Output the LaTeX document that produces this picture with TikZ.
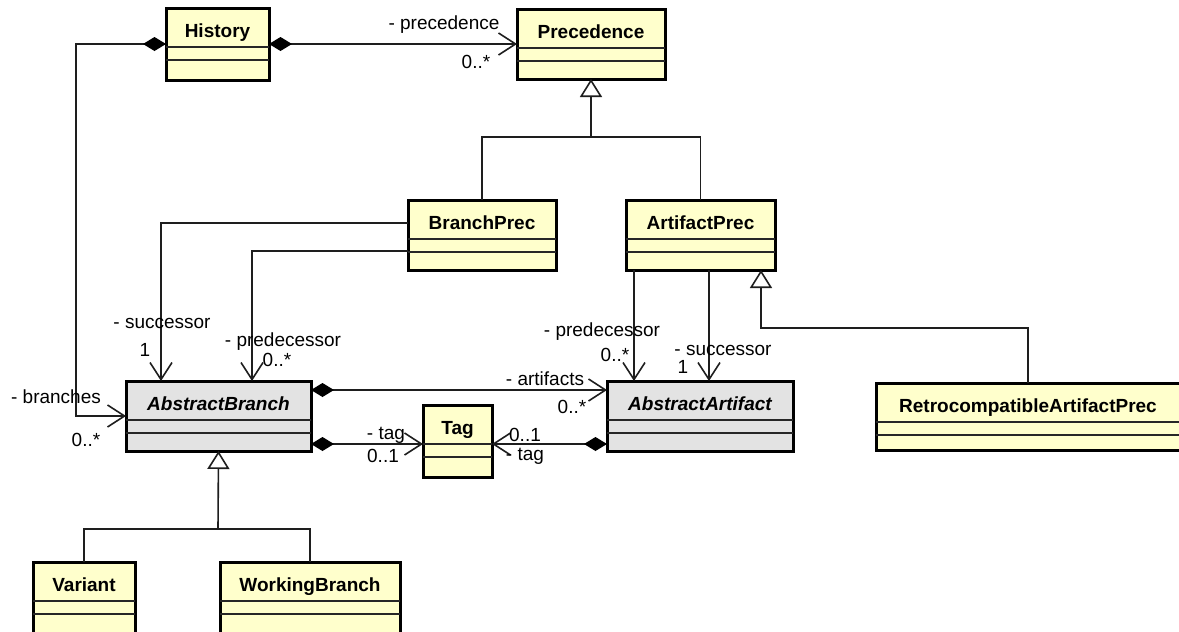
\documentclass[tikz,border=0pt]{standalone}
\usepackage{fontspec}
\setmainfont{Liberation Sans}
\usetikzlibrary{arrows.meta,calc}

\definecolor{classyellow}{RGB}{255,255,204}
\definecolor{classgray}{RGB}{227,227,227}
\definecolor{linegray}{RGB}{30,30,30}

\tikzset{
  classbox/.style={draw=black, line width=3pt, rectangle, inner sep=0pt, outer sep=0pt, anchor=north west},
  divider/.style={line width=1.5pt, draw=black!85},
  classtitle/.style={font=\fontsize{19}{22}\selectfont\bfseries, anchor=base, inner sep=0pt},
  conn/.style={line width=1.6pt, draw=linegray},
  comp/.style={conn, {Diamond[length=23pt,width=14pt,color=black]}-{Straight Barb[length=17pt,width=22pt]}},
  gen/.style={conn, -{Triangle[open,length=18pt,width=22pt,fill=white]}},
  assoc/.style={conn, -{Straight Barb[length=17pt,width=22pt]}},
  role/.style={font=\fontsize{19}{22}\selectfont, inner sep=0pt},
}

% class box: name, x1, y1, x2, y2, fill colour, title
\newcommand{\umlclass}[7]{%
  \node[classbox, fill=#6, minimum width={#4-#2}, minimum height={#5-#3}] (#1) at (#2,#3) {};
  \draw[divider] ([yshift=-39pt]#1.north west) -- ([yshift=-39pt]#1.north east);
  \draw[divider] ([yshift=-52pt]#1.north west) -- ([yshift=-52pt]#1.north east);
  \node[classtitle] (#1-title) at ([yshift=-29pt]#1.north) {#7};
}

\begin{document}
\begin{tikzpicture}[x=1pt,y=-1pt]
  \useasboundingbox (0,0) rectangle (1179,632);
  \fill[white] (0,0) rectangle (1179,632);
  \clip (0,0) rectangle (1179,632);

  % classes
  \umlclass{hi}{166}{8}{269}{80}{classyellow}{History}
  \umlclass{pr}{517}{9}{665}{79}{classyellow}{Precedence}
  \umlclass{bp}{408}{200}{556}{270}{classyellow}{BranchPrec}
  \umlclass{ap}{626}{200}{775}{270}{classyellow}{ArtifactPrec}
  \umlclass{ab}{126}{381}{311}{451}{classgray}{\itshape AbstractBranch}
  \umlclass{aa}{607}{381}{793}{451}{classgray}{\itshape AbstractArtifact}
  \umlclass{tg}{423}{405}{492}{477}{classyellow}{Tag}
  \umlclass{rc}{876}{383}{1180}{450}{classyellow}{RetrocompatibleArtifactPrec}
  \umlclass{va}{33}{562}{135}{640}{classyellow}{Variant}
  \umlclass{wb}{220}{562}{400}{640}{classyellow}{WorkingBranch}

  % routing points
  \coordinate (xb) at (76,0);
  \coordinate (xs) at (161,0);
  \coordinate (xq) at (252,0);
  \coordinate (xr) at (634,0);
  \coordinate (xt) at (709,0);
  \coordinate (pj) at (591,137);
  \coordinate (rj) at (761,328);
  \coordinate (bj) at (218,529);

  % generalizations
  \draw[gen] (bp.north) |- (pj) -- (pr.south);
  \draw[conn] (ap.north) |- (pj);
  \draw[gen] (rc.north) |- (rj) -- (rj |- ap.south);
  \draw[gen] (va.north) |- (bj) -- (ab.south);
  \draw[conn] (wb.north) |- (bj);

  % compositions
  \draw[comp] (hi.east) -- (pr.west);
  \draw[comp] (hi.west) -| (xb |- ab.west) -- (ab.west);
  \draw[comp] ([yshift=26pt]ab.east) -- ([yshift=26pt]aa.west);
  \draw[comp] ([yshift=-28pt]ab.east) -- ([yshift=-3pt]tg.west);
  \draw[comp] ([yshift=-28pt]aa.west) -- ([yshift=-3pt]tg.east);

  % associations
  \draw[assoc] ([yshift=12pt]bp.west) -| (xs |- ab.north);
  \draw[assoc] ([yshift=-16pt]bp.west) -| (xq |- ab.north);
  \draw[assoc] (xr |- ap.south) -- (xr |- aa.north);
  \draw[assoc] (xt |- ap.south) -- (xt |- aa.north);

  % role names and multiplicities
  \node[role] (l1) at (444,25) {- precedence};
  \node[role] (l2) at (476,62) {0..*};
  \node[role] (l3) at (56,397) {- branches};
  \node[role] (l4) at (86,440) {0..*};
  \node[role] (l5) at (162,323) {- successor};
  \node[role] (l6) at (145,350) {1};
  \node[role] (l7) at (283,342) {- predecessor};
  \node[role] (l8) at (277,360) {0..*};
  \node[role] (l9) at (602,332) {- predecessor};
  \node[role] (l10) at (615,355) {0..*};
  \node[role] (l11) at (723,350) {- successor};
  \node[role] (l12) at (683,367) {1};
  \node[role] (l13) at (545,379) {- artifacts};
  \node[role] (l14) at (572,407) {0..*};
  \node[role] (l15) at (525,435) {0..1};
  \node[role] (l16) at (525,456) {- tag};
  \node[role] (l17) at (386,435) {- tag};
  \node[role] (l18) at (383,456) {0..1};
\end{tikzpicture}
\end{document}
